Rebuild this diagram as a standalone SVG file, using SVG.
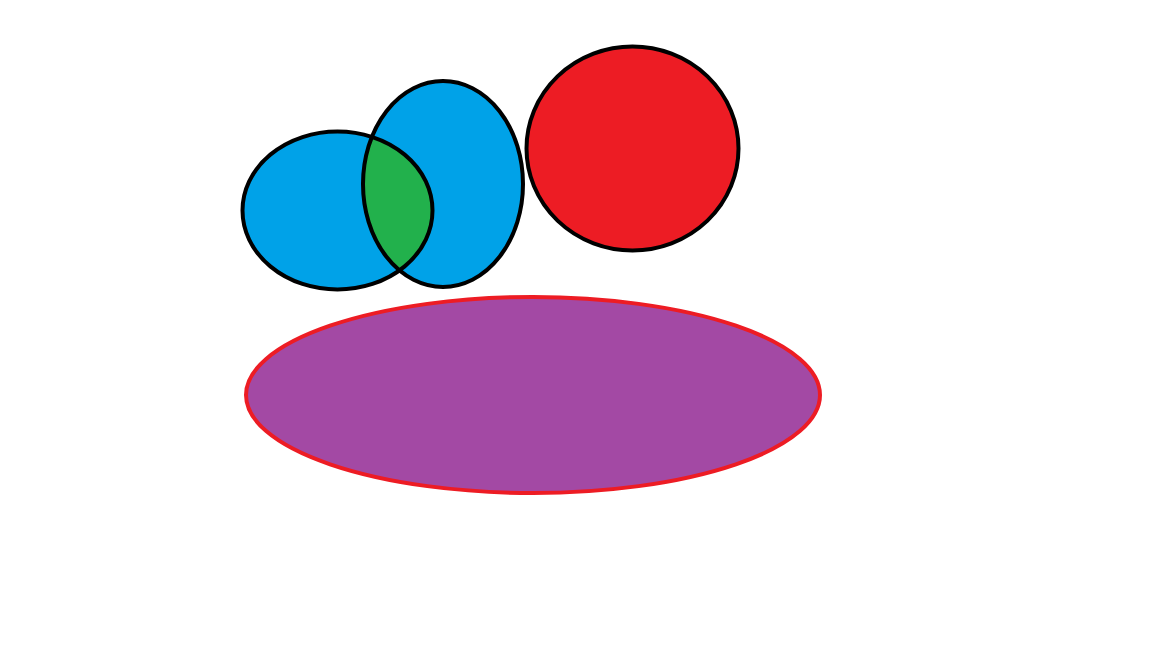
<svg xmlns="http://www.w3.org/2000/svg" width="1152" height="648" viewBox="0 0 1152 648">
<style>
.k{stroke:#000;stroke-width:4;}
.blue{fill:#00A2E8;}
</style>
<defs>
<clipPath id="clipMid"><ellipse cx="443" cy="184" rx="80" ry="103"/></clipPath>
</defs>
<rect width="1152" height="648" fill="#fff"/>
<g id="blue-left"><ellipse class="blue" cx="337.5" cy="210.5" rx="95" ry="79"/></g>
<g id="blue-middle"><ellipse class="blue" cx="443" cy="184" rx="80" ry="103"/></g>
<g id="overlap"><ellipse cx="337.5" cy="210.5" rx="95" ry="79" fill="#22B14C" clip-path="url(#clipMid)"/></g>
<g id="outlines" fill="none">
<ellipse class="k" cx="337.5" cy="210.5" rx="95" ry="79"/>
<ellipse class="k" cx="443" cy="184" rx="80" ry="103"/>
</g>
<g id="red-circle"><ellipse class="k" cx="632.5" cy="148.5" rx="106" ry="102" fill="#ED1C24"/></g>
<g id="purple-ellipse"><ellipse cx="533" cy="395" rx="287" ry="98" fill="#A349A4" stroke="#ED1C24" stroke-width="4"/></g>
</svg>
